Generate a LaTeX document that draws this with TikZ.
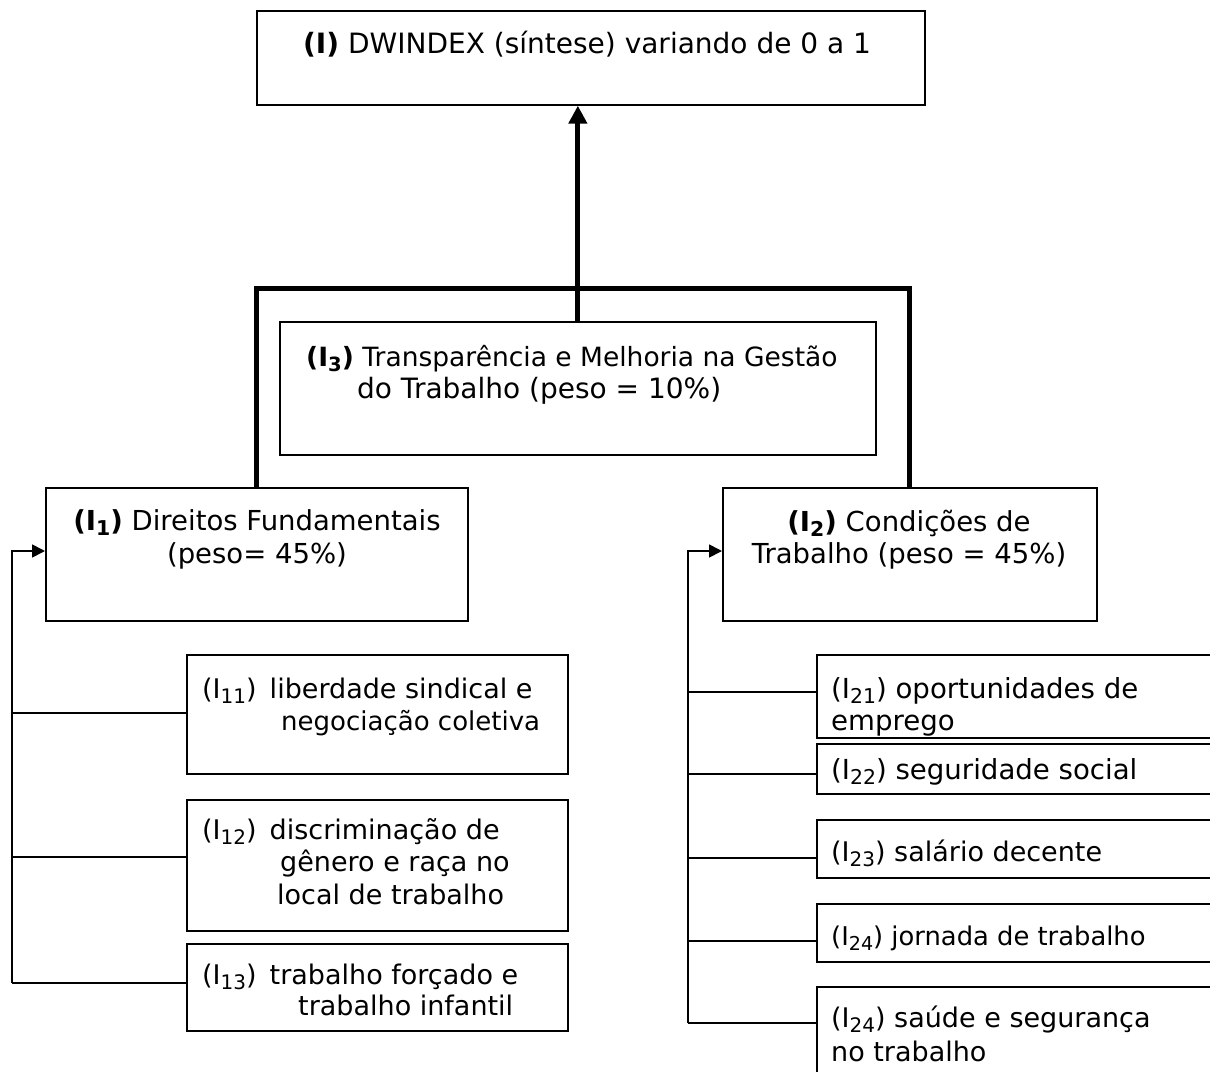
\documentclass[tikz,border=0pt]{standalone}
\usepackage{fontspec}
\setmainfont{DejaVu Sans}
\usetikzlibrary{arrows.meta}
\def\subsz{18}
\newcommand\subx[1]{\raisebox{-0.2em}{\fontsize{\subsz}{\subsz}\selectfont #1}}
\begin{document}
\begin{tikzpicture}[x=1pt,y=-1pt,
  box/.style={draw, line width=1.7pt, anchor=north west, inner sep=0pt},
  txt/.style={anchor=base west, inner sep=0pt, font=\fontsize{#1}{32}\selectfont\def\subsz{\fpeval{round(0.74*#1,1)}}},
  txt/.default=27,
  ctxt/.style={txt=#1, anchor=base},
  ctxt/.default=27.5,
  thickln/.style={line width=5pt, line join=miter},
  thinln/.style={line width=1.7pt},
  bigarr/.style={thickln, -{Triangle[width=18pt,length=18pt]}},
  smallarr/.style={thinln, -{Triangle[width=13pt,length=13pt]}}]
\useasboundingbox (0,0) rectangle (1210,1071);

% boxes
\node[box, minimum width=668pt, minimum height=94pt] (top) at (256,10) {};
\node[box, minimum width=596pt, minimum height=133pt] (I3) at (279,321) {};
\node[box, minimum width=422pt, minimum height=133pt] (I1) at (45,487) {};
\node[box, minimum width=374pt, minimum height=133pt] (I2) at (722,487) {};
\node[box, minimum width=381pt, minimum height=119pt] (I11) at (186,654) {};
\node[box, minimum width=381pt, minimum height=131pt] (I12) at (186,799) {};
\node[box, minimum width=381pt, minimum height=87pt] (I13) at (186,943) {};
\node[box, minimum width=430pt, minimum height=83pt] (I21) at (816,654) {};
\node[box, minimum width=430pt, minimum height=50pt] (I22) at (816,743) {};
\node[box, minimum width=430pt, minimum height=58pt] (I23) at (816,819) {};
\node[box, minimum width=430pt, minimum height=58pt] (I24) at (816,903) {};
\node[box, minimum width=430pt, minimum height=110pt] (I25) at (816,986) {};

% texts
\node[txt=28] (ttop) at (303,53) {\textbf{(I)} DWINDEX (síntese) variando de 0 a 1};
\node[txt=26.5] (t3a) at (306,366) {\textbf{(I\subx{3})} Transparência e Melhoria na Gestão};
\node[txt=28] (t3b) at (357,398) {do Trabalho (peso = 10\%)};
\node[ctxt] (t1a) at (257,530) {\textbf{(I\subx{1})} Direitos Fundamentais};
\node[ctxt] (t1b) at (257,563) {(peso= 45\%)};
\node[ctxt] (t2a) at (909,531) {\textbf{(I\subx{2})} Condições de};
\node[ctxt] (t2b) at (909,563) {Trabalho (peso = 45\%)};
\node[txt] (t11a) at (202,698) {(I\subx{11})\, liberdade sindical e};
\node[txt=26] (t11b) at (281,730) {negociação coletiva};
\node[txt] (t12a) at (202,839) {(I\subx{12})\, discriminação de};
\node[txt] (t12b) at (280,871) {gênero e raça no};
\node[txt] (t12c) at (277,904) {local de trabalho};
\node[txt] (t13a) at (202,984) {(I\subx{13})\, trabalho forçado e};
\node[txt] (t13b) at (298,1015) {trabalho infantil};
\node[txt=27.6] (t21a) at (831,698) {(I\subx{21}) oportunidades de};
\node[txt=27.6] (t21b) at (831,730) {emprego};
\node[txt=27.6] (t22) at (831,779) {(I\subx{22}) seguridade social};
\node[txt=27] (t23) at (831,861) {(I\subx{23}) salário decente};
\node[txt=25.8] (t24) at (831,945) {(I\subx{24}) jornada de trabalho};
\node[txt=27] (t25a) at (831,1027) {(I\subx{24}) saúde e segurança};
\node[txt=27] (t25b) at (831,1061) {no trabalho};

% thick connectors
\draw[bigarr] (I3.north) -- (I3.north |- top.south);
\draw[thickln] (I1.north) -- (I1.north |- 0,288) -- (I2.north |- 0,288) -- (I2.north);

% left feedback
\coordinate (Lsp) at (12,551);
\coordinate (Lbot) at (12,983);
\draw[smallarr] (Lbot) -- (Lsp) -- (Lsp -| I1.west);
\draw[thinln] (12,713) -- (I11.west |- 0,713);
\draw[thinln] (12,857) -- (I12.west |- 0,857);
\draw[thinln] (Lbot) -- (I13.west |- Lbot);

% right feedback
\coordinate (Rsp) at (688,551);
\coordinate (Rbot) at (688,1023);
\draw[smallarr] (Rbot) -- (Rsp) -- (Rsp -| I2.west);
\draw[thinln] (688,692) -- (I21.west |- 0,692);
\draw[thinln] (688,774) -- (I22.west |- 0,774);
\draw[thinln] (688,858) -- (I23.west |- 0,858);
\draw[thinln] (688,941) -- (I24.west |- 0,941);
\draw[thinln] (Rbot) -- (I25.west |- Rbot);
\end{tikzpicture}
\end{document}
